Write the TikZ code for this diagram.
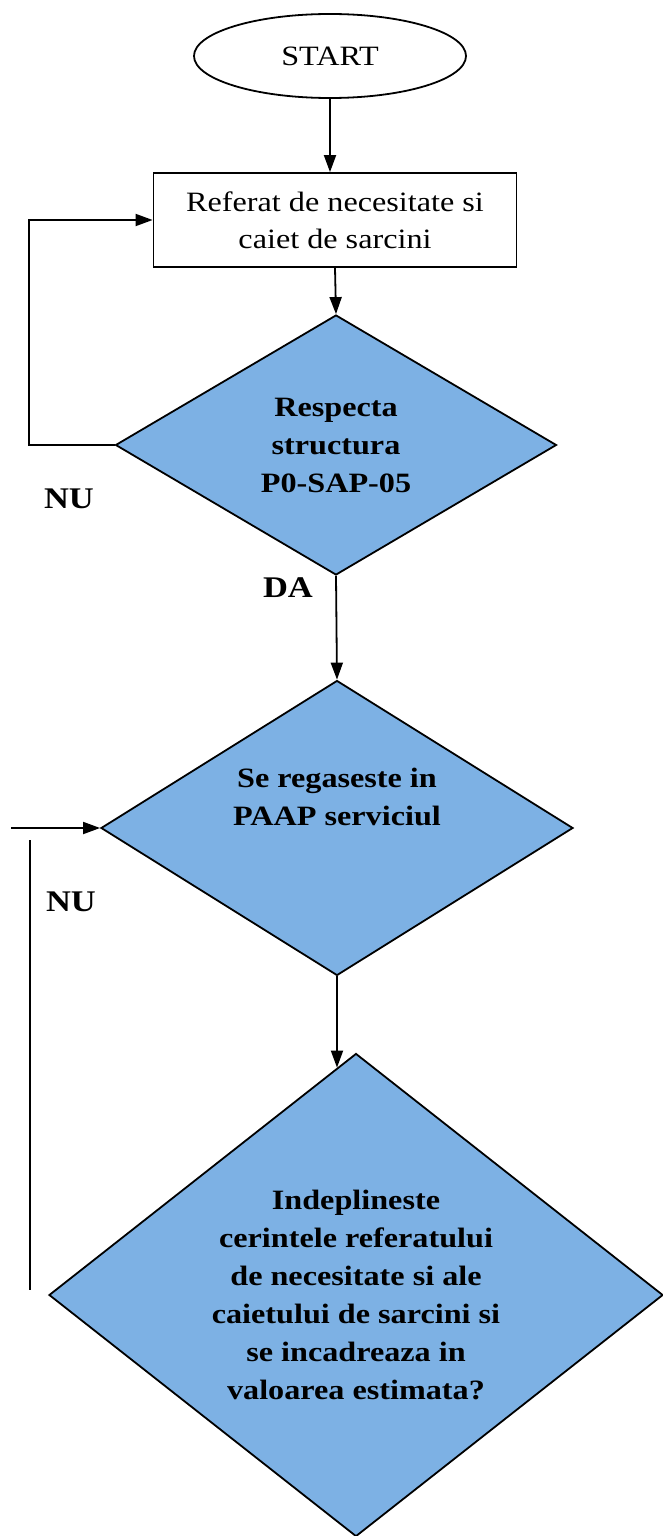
\documentclass[tikz,border=0pt]{standalone}
\usepackage{fontspec}
\setmainfont{Liberation Serif}[FakeStretch=1.15]
\usetikzlibrary{arrows.meta,shapes.geometric}
\definecolor{decblue}{RGB}{125,177,228}

\begin{document}
\begin{tikzpicture}[x=1pt,y=-1pt,-,>={Triangle[length=17pt,width=12pt]},line width=1.8pt,
	every node/.style={font=\fontsize{28}{37}\selectfont},
	term node/.style={ellipse,draw,minimum width=272pt,minimum height=84pt,inner sep=0pt},
	box node/.style={rectangle,draw,minimum width=363pt,minimum height=94pt,align=center,inner sep=0pt},
	main node/.style={diamond,draw,fill=decblue,inner sep=0pt,align=center,font=\fontsize{28}{38}\selectfont\bfseries},
	answer/.style={font=\fontsize{30}{36}\selectfont\bfseries}]

	\useasboundingbox (0,0) rectangle (663,1536);

	\node[term node] (1) at (330,56) {START};
	\node[box node] (2) at (335,220) {Referat de necesitate si\\caiet de sarcini};
	\node[main node,minimum width=441pt,minimum height=260pt,aspect=1.7] (3) at (336,445)
		{Respecta\\structura\\P0-SAP-05};
	\node[main node,minimum width=472pt,minimum height=295pt] (4) at (337,828) {};
	\node[main node,draw=none,fill=none] (5) at ([yshift=31pt]4.center) {Se regaseste in\\PAAP serviciul};
	\node[main node,minimum width=614pt,minimum height=483pt,aspect=1.27] (6) at (356,1295)
		{Indeplineste\\cerintele referatului\\de necesitate si ale\\caietului de sarcini si\\se incadreaza in\\valoarea estimata?};

	\node[answer] (7) at (69,499) {NU};
	\node[answer] (8) at (288,588) {DA};
	\node[answer] (9) at (71,902) {NU};

	\coordinate (10) at (29,445);
	\coordinate (11) at (11,828);
	\coordinate (12) at (30,840);
	\coordinate (13) at (30,1290);

	\path[->]
		(1.south) edge (1.south |- 2.north)
		(2.south) edge (3.north)
		(3.south) edge (4.north)
		(4.south) edge ([yshift=-15pt]4.south |- 6.north)
		(11) edge (4.west);
	\draw[->] (3.west) -- (10) |- (2.west);
	\draw (12) -- (13);
\end{tikzpicture}
\end{document}
